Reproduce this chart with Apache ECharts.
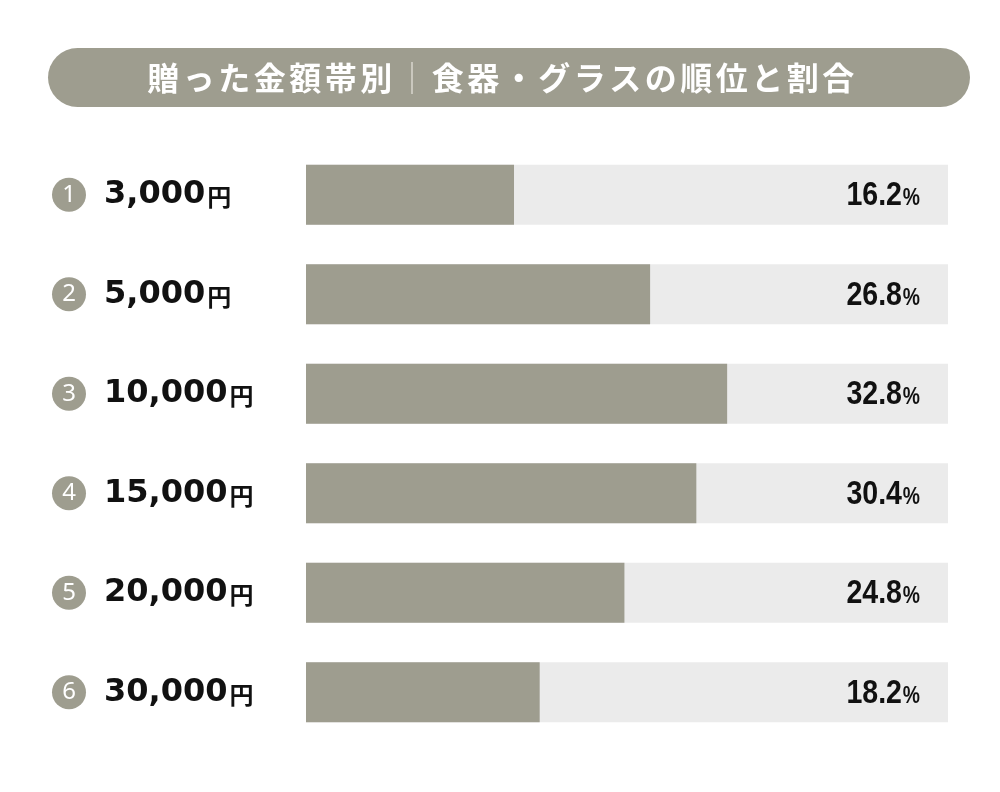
<!DOCTYPE html>
<html>
<head>
<meta charset="utf-8">
<script src="https://cdn.jsdelivr.net/npm/echarts@6/dist/echarts.min.js"></script>
<style>
  html, body { margin: 0; padding: 0; background: #fff; }
  #main { width: 1000px; height: 792px; }
</style>
</head>
<body>
<div id="main"></div>
<script>
var titleLeft = "贈った金額帯別";
var titleRight = "食器・グラスの順位と割合";
var ranks = ["1", "2", "3", "4", "5", "6"];
var amounts = ["3,000", "5,000", "10,000", "15,000", "20,000", "30,000"];
var shares = [16.2, 26.8, 32.8, 30.4, 24.8, 18.2];
var fullScale = [50, 50, 50, 50, 50, 50];

var barColor = "#9e9d8f";
var trackColor = "#ebebeb";

// each character in a fixed-width cell, to get the spaced-out look of the title
function spaced(s) {
  return s.split("").map(function (ch) { return "{c|" + ch + "}"; }).join("");
}
var titleRich = {
  c: {
    width: 35.5,
    align: "center",
    fontSize: 32,
    fontWeight: "bold",
    fill: "#fff",
    fontFamily: "'Noto Sans CJK JP'"
  }
};

var myChart = echarts.init(document.getElementById("main"));

var option = {
  backgroundColor: "#fff",
  animation: false,
  graphic: [
    {
      type: "rect",
      shape: { x: 48, y: 48, width: 922, height: 59, r: 29.5 },
      style: { fill: barColor },
      z: 0
    },
    {
      type: "text",
      x: 394,
      y: 78,
      style: {
        text: spaced(titleLeft),
        rich: titleRich,
        fill: "#fff",
        align: "right",
        verticalAlign: "middle"
      },
      z: 1
    },
    {
      type: "line",
      shape: { x1: 412, y1: 62, x2: 412, y2: 94 },
      style: { stroke: "#d8d7ce", lineWidth: 1.5 },
      z: 1
    },
    {
      type: "text",
      x: 430,
      y: 78,
      style: {
        text: spaced(titleRight),
        rich: titleRich,
        fill: "#fff",
        align: "left",
        verticalAlign: "middle"
      },
      z: 1
    }
  ],
  grid: {
    left: 306,
    right: 52,
    top: 145,
    bottom: 50
  },
  xAxis: {
    type: "value",
    min: 0,
    max: 50,
    show: false
  },
  yAxis: {
    type: "category",
    inverse: true,
    data: amounts,
    axisLine: { show: false },
    axisTick: { show: false },
    splitLine: { show: false },
    axisLabel: {
      align: "left",
      margin: 254,
      formatter: function (v, i) {
        return "{c|" + ranks[i] + "}{v|" + v + "}{y|円}";
      },
      rich: {
        c: {
          width: 34,
          height: 34,
          lineHeight: 34,
          borderRadius: 17,
          backgroundColor: barColor,
          color: "#fff",
          align: "center",
          fontSize: 24,
          fontFamily: "'Noto Sans'"
        },
        v: {
          fontSize: 32,
          fontWeight: "bold",
          color: "#111",
          fontFamily: "'DejaVu Sans'",
          padding: [0, 2, 0, 18]
        },
        y: {
          fontSize: 24,
          fontWeight: "bold",
          color: "#111",
          fontFamily: "'Noto Sans CJK JP'",
          padding: [5, 0, 0, 0]
        }
      }
    }
  },
  series: [
    {
      name: "track",
      type: "bar",
      barWidth: 60,
      data: fullScale,
      itemStyle: { color: trackColor },
      silent: true,
      z: 1
    },
    {
      name: "share",
      type: "bar",
      barWidth: 60,
      barGap: "-100%",
      data: shares,
      itemStyle: { color: barColor },
      z: 2
    },
    {
      // percentage text at the right end of each track, squeezed to look condensed
      name: "pct",
      type: "custom",
      data: shares.map(function (v, i) { return [50, i, v]; }),
      encode: { x: 0, y: 1 },
      z: 3,
      renderItem: function (params, api) {
        var pt = api.coord([api.value(0), api.value(1)]);
        return {
          type: "text",
          x: pt[0] - 28,
          y: pt[1] + 1,
          scaleX: 0.84,
          style: {
            text: "{n|" + api.value(2).toFixed(1) + "}{p|%}",
            align: "right",
            verticalAlign: "middle",
            rich: {
              n: {
                fontSize: 34,
                fontWeight: "bold",
                fill: "#111",
                fontFamily: "'Liberation Sans'"
              },
              p: {
                fontSize: 23,
                fontWeight: "bold",
                fill: "#111",
                fontFamily: "'Liberation Sans'",
                padding: [6, 0, 0, 1]
              }
            }
          }
        };
      }
    }
  ]
};

myChart.setOption(option);
</script>
</body>
</html>
